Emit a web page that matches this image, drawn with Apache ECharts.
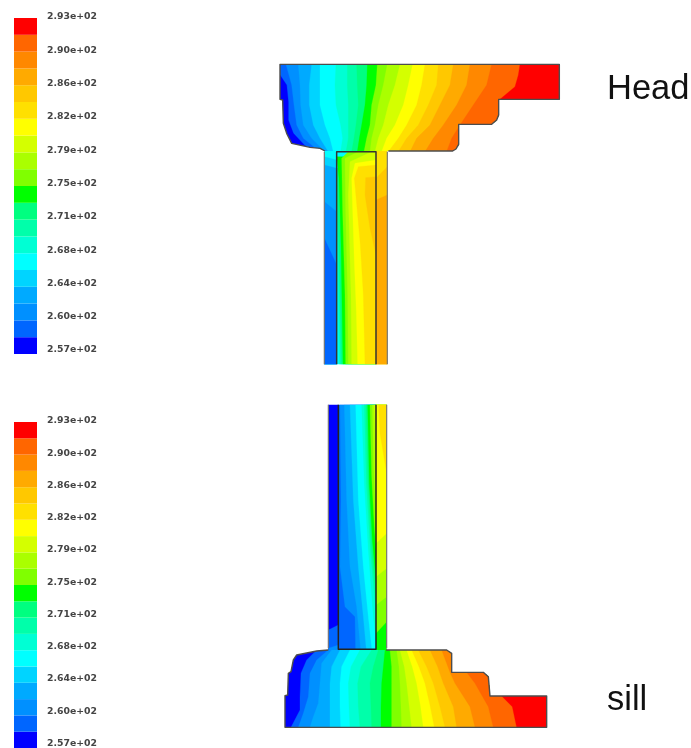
<!DOCTYPE html>
<html><head><meta charset="utf-8">
<style>html,body{margin:0;padding:0;background:#fff}#c{width:691px;height:748px;filter:blur(0.6px)}</style>
<script src="https://cdn.jsdelivr.net/npm/echarts@6/dist/echarts.min.js"></script>
</head><body><div id="c"></div>
<script>
// contour band colours, coolest to hottest
const bandColors = ['#0000ff','#0066ff','#0090ff','#00aaff','#00d4ff','#00ffff','#00ffd4','#00ffaa','#00ff80','#00ff00','#80ff00','#aaff00','#d4ff00','#ffff00','#ffe000','#ffc800','#ffaa00','#ff8800','#ff6600','#ff0000'];
const tickLabels = ['2.57e+02','2.60e+02','2.64e+02','2.68e+02','2.71e+02','2.75e+02','2.79e+02','2.82e+02','2.86e+02','2.90e+02','2.93e+02'];

// Head: outline
const headOutline = [[355,288],[548,288],[558,282],[566,268],[566,208],[665,208],[680,195],[686,180],[686,133],[868,133],[868,28],[30,28],[30,133],[38,135],[40,205],[50,235],[65,265],[120,277],[150,280],[165,288]];
// Head: isotherm x at each level, bands 2..18
const headLevels = [28,90,150,210,250,290];
const headIso = [
 [48,65,72,80,100,150],[85,90,92,100,125,165],[125,118,118,130,150,175],[150,150,150,165,180,190],
 [198,195,198,212,218,212],[232,232,235,235,235,228],[260,262,265,258,252,245],[292,290,285,275,268,262],
 [322,318,305,300,290,282],[352,340,325,315,305,300],[390,375,355,340,325,315],[428,415,400,375,350,335],
 [465,455,440,410,385,355],[505,500,475,445,410,385],[550,540,510,480,440,420],[600,590,560,520,490,465],
 [665,650,610,570,545,530]];
const headBlue = [[30,60],[50,90],[55,140],[55,195],[70,235],[105,272],[130,290]];
const headRed = [[750,28],[745,60],[735,95],[690,133]];

// Head stem (upper crop)
const hsLeftIso = [[4,[[28,35],[65,45]]],[3,[[28,60],[65,70]]],[2,[[28,170],[65,200]]],[1,[[28,280],[65,360]]]];
const hsInnerIso = [
 [6,[[65,180],[68,400],[72,658]]],[7,[[65,120],[70,350],[76,658]]],[8,[[65,70],[72,300],[80,658]]],
 [9,[[65,35],[72,100],[78,300],[84,658]]],[10,[[100,20],[80,40],[83,200],[90,450],[92,658]]],
 [11,[[130,20],[90,40],[92,200],[98,450],[100,658]]],[12,[[170,20],[105,50],[100,150],[108,450],[110,658]]],
 [13,[[183,45],[120,55],[110,100],[118,350],[124,500],[128,658]]],[14,[[183,60],[130,65],[118,100],[136,300],[145,450],[150,658]]],
 [15,[[183,95],[152,98],[150,150],[165,250],[183,330]]]];
const hsRightIso = [[15,[[183,100],[217,65]]],[16,[[183,165],[217,150]]]];

// Sill stem (lower crop)
const ssLeftIso = [[1,[[40,690],[70,675]]],[2,[[40,745],[70,735]]]];
const ssInnerIso = [
 [2,[[75,14],[78,300],[75,500],[90,620],[120,650],[122,760]]],[3,[[88,14],[95,300],[105,500],[125,620],[138,760]]],
 [4,[[105,14],[115,300],[130,500],[145,650],[155,760]]],[5,[[122,14],[130,300],[145,500],[160,650],[172,760]]],
 [6,[[140,14],[148,250],[160,450],[175,650],[183,720]]],[7,[[148,14],[154,250],[166,450],[183,640]]],
 [8,[[153,14],[159,250],[170,450],[183,590]]],[9,[[158,14],[163,250],[172,420],[183,540]]],
 [10,[[165,14],[170,230],[178,380],[183,450]]],[11,[[172,14],[176,200],[183,350]]],[12,[[178,14],[183,150]]]];
const ssRightUp = [[10,[[183,700],[215,665]]],[11,[[183,615],[215,590]]],[12,[[183,530],[215,505]]],[13,[[183,430],[215,400]]]];
const ssRightHot = [[14,[[190,0],[195,100],[215,220]]]];

// Sill: outline and isotherms
const sillOutline = [[333,30],[515,30],[530,40],[530,97],[625,97],[640,110],[645,168],[815,168],[815,262],[30,262],[30,167],[38,165],[40,100],[48,95],[55,60],[65,45],[125,33],[160,30]];
const sillIso = [
 [1,[[125,30],[95,60],[78,100],[75,170],[75,210],[48,262]]],[2,[[160,30],[125,60],[105,100],[100,170],[85,220],[70,262]]],
 [3,[[170,30],[140,70],[135,130],[130,190],[115,230],[105,262]]],[4,[[195,30],[170,80],[165,130],[165,180],[165,262]]],
 [5,[[225,30],[200,80],[195,130],[195,200],[197,262]]],[6,[[255,30],[228,80],[220,130],[222,200],[225,262]]],
 [7,[[290,30],[258,80],[248,130],[250,200],[255,262]]],[8,[[310,30],[295,80],[285,130],[288,200],[290,262]]],
 [9,[[330,30],[325,80],[320,130],[318,200],[318,262]]],[10,[[345,30],[350,80],[350,130],[350,262]]],
 [11,[[365,30],[372,80],[375,130],[378,200],[380,262]]],[12,[[375,30],[388,80],[395,130],[403,200],[410,262]]],
 [13,[[395,30],[412,80],[425,130],[437,200],[445,262]]],[14,[[410,30],[432,80],[450,130],[466,200],[478,262]]],
 [15,[[430,30],[455,80],[475,130],[495,200],[510,262]]],[16,[[465,30],[488,80],[505,130],[535,200],[545,262]]],
 [17,[[500,30],[525,97],[540,130],[585,200],[600,262]]],[18,[[575,97],[600,130],[640,200],[655,262]]],
 [19,[[680,168],[712,200],[725,262]]]];

const closeRight = l => [...l,[5000,l[l.length-1][1]],[5000,l[0][1]]];
const closeLeft = l => [...l,[-500,l[l.length-1][1]],[-500,l[0][1]]];
const closeUp = l => [...l,[l[l.length-1][0],-500],[l[0][0],-500]];
const closeDown = l => [...l,[l[l.length-1][0],3000],[l[0][0],3000]];
const rect = (x0,y0,x1,y1) => [[x0,y0],[x1,y0],[x1,y1],[x0,y1]];

const cropGrids = [
 {left:270,top:55,width:300,height:110,xMax:900,yMax:330},
 {left:315,top:145,width:85,height:225,xMax:255,yMax:675},
 {left:315,top:400,width:85,height:255,xMax:255,yMax:765},
 {left:275,top:640,width:285,height:95,xMax:855,yMax:285}];

function field(grid, clip, base, polys){
  const items = [[base, rect(-500,-500,5000,3000)], ...polys];
  return {type:'custom',coordinateSystem:'cartesian2d',xAxisIndex:grid,yAxisIndex:grid,silent:true,animation:false,
    data:items.map((_,i)=>[i]),encode:{x:0},
    renderItem(p,api){
      const it = items[api.value(0)];
      const map = q=>api.coord(q);
      return {type:'polygon',shape:{points:it[1].map(map)},style:{fill:bandColors[it[0]],stroke:bandColors[it[0]],lineWidth:0.3},
        clipPath:{type:'polygon',shape:{points:clip.map(map)}}};
    }};
}
function stroke(grid, lines, color, w){
  return {type:'custom',coordinateSystem:'cartesian2d',xAxisIndex:grid,yAxisIndex:grid,silent:true,animation:false,z:5,
    data:lines.map((_,i)=>[i]),encode:{x:0},
    renderItem(p,api){
      return {type:'polyline',shape:{points:lines[api.value(0)].map(q=>api.coord(q))},style:{fill:null,stroke:color,lineWidth:w,lineJoin:'round'}};
    }};
}
const rows = (iso,levels,from)=>iso.map((xs,i)=>[from+i,closeRight(xs.map((x,k)=>[x,levels[k]]))]);
const cr = a=>a.map(([b,l])=>[b,closeRight(l)]);
const cd = a=>a.map(([b,l])=>[b,closeDown(l)]);
const cu = a=>a.map(([b,l])=>[b,closeUp(l)]);

const series = [
 field(1,rect(28,15,65,658),5,cd(hsLeftIso)),
 field(1,rect(65,15,183,658),5,cr(hsInnerIso)),
 field(1,rect(183,15,217,658),14,cd(hsRightIso)),
 field(0,headOutline,1,[[0,closeLeft(headBlue)],...rows(headIso,headLevels,2),[19,closeRight(headRed)]]),
 field(2,rect(40,14,70,752),0,cd(ssLeftIso)),
 field(2,rect(70,14,183,752),1,cr(ssInnerIso)),
 field(2,rect(183,14,215,752),9,[...cu(ssRightUp),...cr(ssRightHot)]),
 field(3,sillOutline,0,cr(sillIso)),
 stroke(0,[headOutline],'#4d4d4d',1.4),
 stroke(1,[[[28,20],[28,658]],[[217,20],[217,658]]],'#777',1.2),
 stroke(1,[[[65,658],[65,20],[183,20],[183,658]]],'#333',1.5),
 stroke(3,[sillOutline],'#4d4d4d',1.4),
 stroke(2,[[[40,14],[40,745]],[[215,14],[215,745]]],'#777',1.2),
 stroke(2,[[[70,14],[70,748],[183,748],[183,14]]],'#222',1.5),
 {type:'bar',xAxisIndex:4,yAxisIndex:4,silent:true,animation:false,barCategoryGap:'0%',data:bandColors.map(c=>({value:1,itemStyle:{color:c}}))},
 {type:'bar',xAxisIndex:5,yAxisIndex:5,silent:true,animation:false,barCategoryGap:'0%',data:bandColors.map(c=>({value:1,itemStyle:{color:c}}))}
];

const hid = {show:false};
const grids = [...cropGrids.map(g=>({left:g.left,top:g.top,width:g.width,height:g.height})),
 {left:14,top:18,width:23,height:336},{left:14,top:422,width:23,height:326},
 {left:47,top:17,width:52,height:333},{left:47,top:421,width:52,height:323}];
const xAxis = [...cropGrids.map((g,i)=>({type:'value',gridIndex:i,min:0,max:g.xMax,show:false})),
 {type:'value',gridIndex:4,min:0,max:1,show:false},{type:'value',gridIndex:5,min:0,max:1,show:false},
 {type:'value',gridIndex:6,min:0,max:1,show:false},{type:'value',gridIndex:7,min:0,max:1,show:false}];
const labelAxis = i=>({type:'value',gridIndex:i,min:0,max:10,interval:1,axisLine:hid,axisTick:hid,splitLine:hid,
  axisLabel:{inside:true,margin:0,align:'left',formatter:v=>tickLabels[v],fontFamily:'DejaVu Sans',fontWeight:'bold',fontSize:9.3,color:'#444'}});
const tickCat = bandColors.map((_,i)=>String(i));
const yAxis = [...cropGrids.map((g,i)=>({type:'value',gridIndex:i,min:0,max:g.yMax,inverse:true,show:false})),
 {type:'category',gridIndex:4,data:tickCat,show:false},{type:'category',gridIndex:5,data:tickCat,show:false},
 labelAxis(6),labelAxis(7)];

const chart = echarts.init(document.getElementById('c'),null,{renderer:'canvas'});
chart.setOption({backgroundColor:'#fff',animation:false,grid:grids,xAxis,yAxis,series,
 graphic:[
  {type:'text',left:607,top:72,style:{text:'Head',font:'34.5px "Liberation Sans"',fill:'#111'}},
  {type:'text',left:607,top:683,style:{text:'sill',font:'34.5px "Liberation Sans"',fill:'#111'}}
 ]});
</script></body></html>
